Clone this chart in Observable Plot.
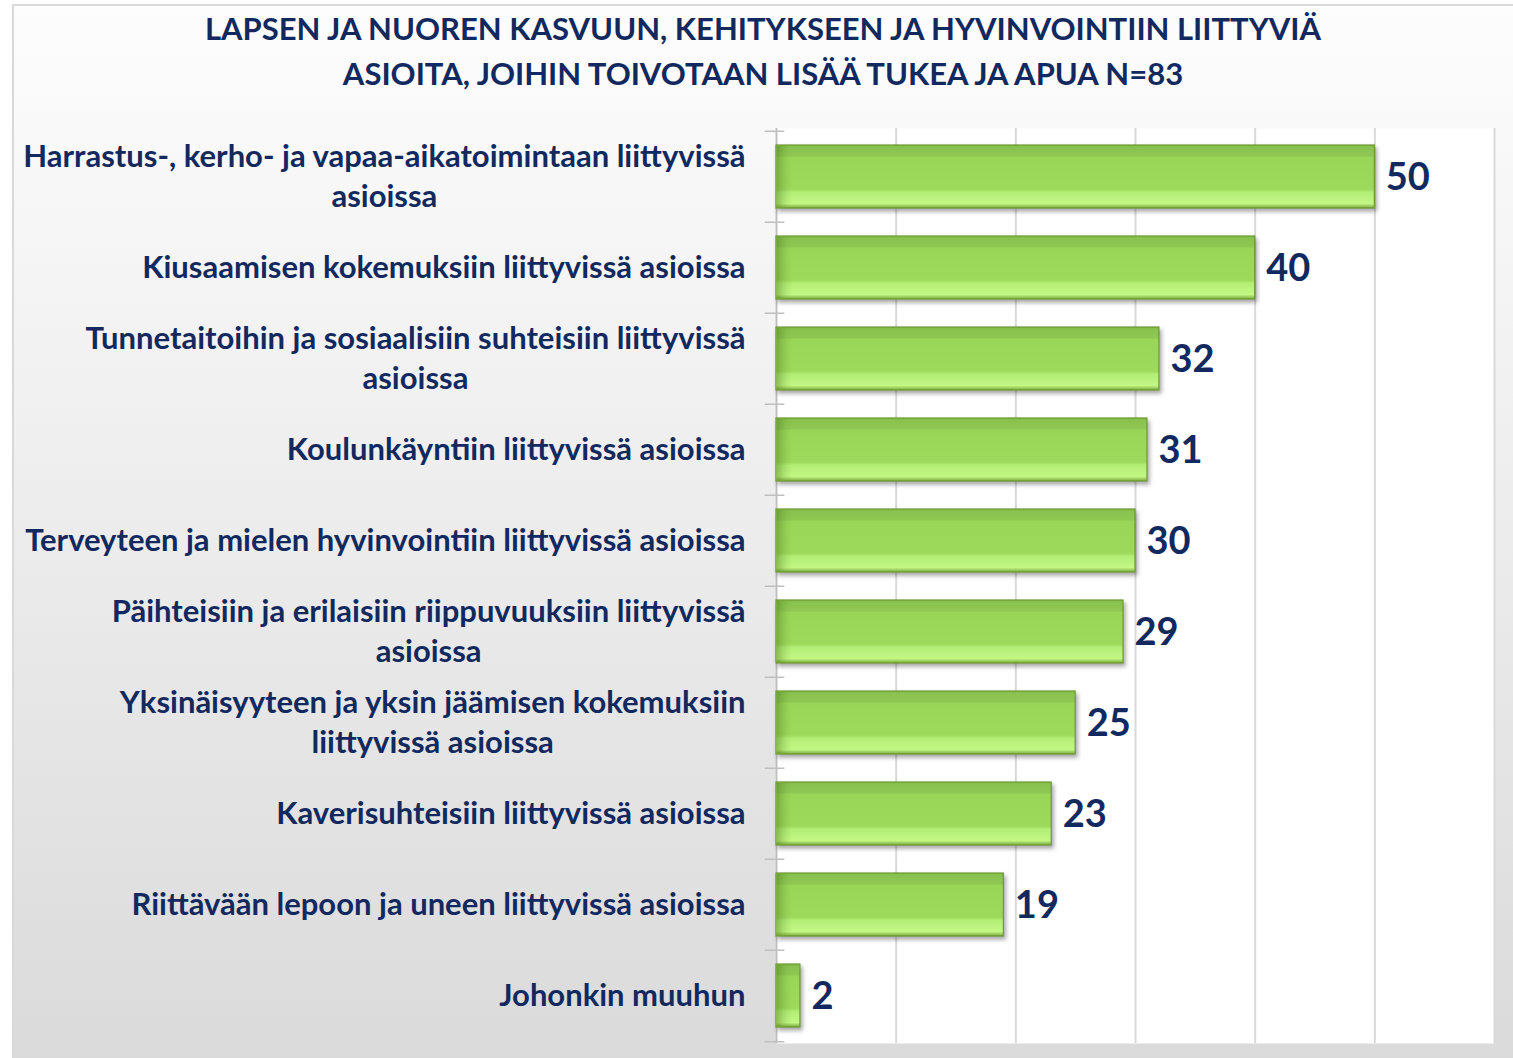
<!DOCTYPE html>
<html>
<head>
<meta charset="utf-8">
<script src="https://cdn.jsdelivr.net/npm/d3@7"></script>
<script src="https://cdn.jsdelivr.net/npm/@observablehq/plot@0.6"></script>
<style>
  html, body { margin: 0; padding: 0; background: #ffffff; }
  body { width: 1513px; height: 1058px; position: relative; overflow: hidden; font-family: Lato, "Open Sans", sans-serif; }
  #frame { position: absolute; left: 12px; top: 4px; width: 1510px; height: 1060px; box-sizing: border-box;
           border: 2px solid #d9d9d9; background: linear-gradient(to bottom, #fdfdfd 0%, #ececec 50%, #dadada 100%); }
  #title { position: absolute; left: 0; top: 6px; width: 1526px; text-align: center; color: #12295f;
           font-weight: 700; font-size: 31px; line-height: 45px; }
  #plot { position: absolute; left: 0; top: 116px; }
</style>
</head>
<body>
<div id="frame"></div>
<div id="title">LAPSEN JA NUOREN KASVUUN, KEHITYKSEEN JA HYVINVOINTIIN LIITTYVIÄ<br>ASIOITA, JOIHIN TOIVOTAAN LISÄÄ TUKEA JA APUA N=83</div>
<div id="plot"></div>
<script>
const categories = [
  "Harrastus-, kerho- ja vapaa-aikatoimintaan liittyvissä\nasioissa",
  "Kiusaamisen kokemuksiin liittyvissä asioissa",
  "Tunnetaitoihin ja sosiaalisiin suhteisiin liittyvissä\nasioissa",
  "Koulunkäyntiin liittyvissä asioissa",
  "Terveyteen ja mielen hyvinvointiin liittyvissä asioissa",
  "Päihteisiin ja erilaisiin riippuvuuksiin liittyvissä\nasioissa",
  "Yksinäisyyteen ja yksin jäämisen kokemuksiin\nliittyvissä asioissa",
  "Kaverisuhteisiin liittyvissä asioissa",
  "Riittävään lepoon ja uneen liittyvissä asioissa",
  "Johonkin muuhun"
];
const values = [50, 40, 32, 31, 30, 29, 25, 23, 19, 2];
const gridTicks = [0, 10, 20, 30, 40, 50, 60];

const data = categories.map((c, i) => ({category: c, value: values[i]}));
const navy = "#12295f";

const chart = Plot.plot({
  width: 1513,
  height: 942,
  marginTop: 12,
  marginBottom: 15,
  marginLeft: 776,
  marginRight: 19,
  style: {background: "transparent", fontFamily: "Lato, 'Open Sans', sans-serif"},
  x: {domain: [0, 60], axis: null},
  y: {domain: categories, paddingInner: 0.31, paddingOuter: 0.155, axis: null},
  marks: [
    Plot.frame({fill: "white", stroke: null}),
    Plot.ruleX(gridTicks, {stroke: "#d9d9d9", strokeWidth: 2}),
    Plot.ruleX([0], {stroke: "#bfbfbf", strokeWidth: 1.5}),
    Plot.ruleY(categories, {y: d => d, dy: -45.75, x1: -0.95, x2: 0.7, stroke: "#bfbfbf", strokeWidth: 1.5}),
    Plot.ruleY(categories.slice(-1), {y: d => d, dy: 45.75, x1: -0.95, x2: 0.7, stroke: "#bfbfbf", strokeWidth: 1.5}),
    Plot.barX(data, {y: "category", x: "value", fill: "url(#bevel)", stroke: "#6e9a33", strokeWidth: 1.2,
      imageFilter: "drop-shadow(2px 3px 2px rgba(0,0,0,0.35))"}),
    Plot.barX(data, {y: "category", x: "value", fill: "url(#leftBevel)", inset: 1}),
    Plot.text(data, {y: "category", x: "value", text: d => String(d.value), dx: 11, dy: 1, textAnchor: "start",
      fontSize: 38, fontWeight: "bold", fill: navy}),
    Plot.text(data, {y: "category", x: 0, text: "category", dx: -31, dy: -3, textAnchor: "end", lineHeight: 1.29,
      fontSize: 31, fontWeight: "bold", fill: navy, className: "cat-labels"})
  ]
});

// gradient defs for bevelled bars
const svg = d3.select(chart);
const defs = svg.insert("defs", ":first-child");
const g = defs.append("linearGradient").attr("id", "bevel").attr("x1", 0).attr("y1", 0).attr("x2", 0).attr("y2", 1);
[
  [0, "#82ba45"], [0.04, "#89c24e"], [0.17, "#8ec853"], [0.20, "#99d658"],
  [0.70, "#9dd95b"], [0.75, "#b3ee76"], [0.93, "#c2f784"], [1, "#7aa83a"]
].forEach(([o, c]) => g.append("stop").attr("offset", o).attr("stop-color", c));
const lb = defs.append("linearGradient").attr("id", "leftBevel").attr("gradientUnits", "userSpaceOnUse")
  .attr("x1", 776).attr("y1", 0).attr("x2", 792).attr("y2", 0);
[[0, "rgba(70,110,25,0.45)"], [0.5, "rgba(90,140,40,0.2)"], [1, "rgba(120,170,60,0)"]]
  .forEach(([o, c]) => lb.append("stop").attr("offset", o).attr("stop-color", c));

document.getElementById("plot").appendChild(chart);

// center multi-line category labels within their block
svg.selectAll(".cat-labels text").each(function() {
  const tspans = Array.from(this.querySelectorAll("tspan"));
  if (tspans.length < 2) return;
  const widths = tspans.map(t => t.getComputedTextLength());
  const maxW = Math.max(...widths);
  tspans.forEach((t, i) => t.setAttribute("x", -(maxW - widths[i]) / 2));
});
</script>
</body>
</html>
